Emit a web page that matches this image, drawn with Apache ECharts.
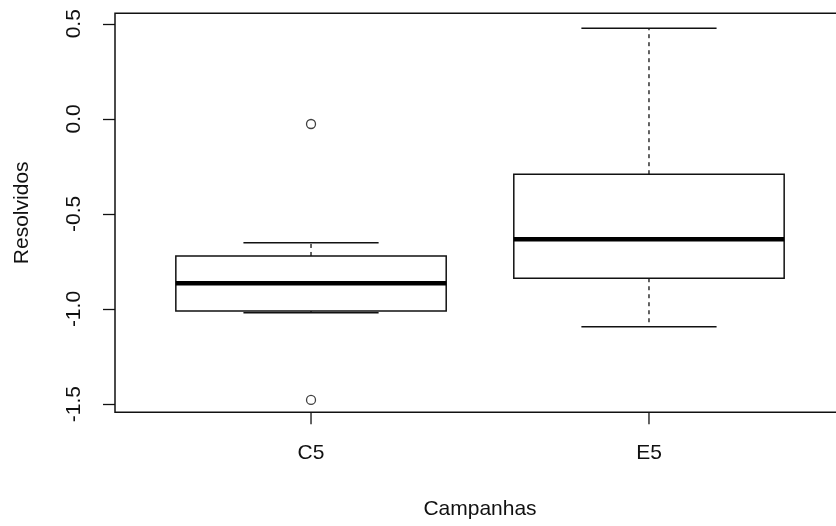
<!DOCTYPE html>
<html>
<head>
<meta charset="utf-8">
<script src="https://cdn.jsdelivr.net/npm/echarts@6/dist/echarts.min.js"></script>
<style>
  html, body { margin: 0; padding: 0; background: #fff; overflow: hidden; }
  /* plot frame extends slightly past the right edge of the window */
  #chart { width: 845px; height: 526px; }
</style>
</head>
<body>
<div id="chart"></div>
<script>
// Boxplot of "Resolvidos" by campaign
const categories = ['C5', 'E5'];
const lowerWhisker = [-1.02, -1.093];
const lowerQuartile = [-1.01, -0.838];
const medians = [-0.865, -0.633];
const upperQuartile = [-0.721, -0.291];
const upperWhisker = [-0.651, 0.476];
const outliers = [[-0.027, -1.478], []];
const yTicks = [-1.5, -1.0, -0.5, 0.0, 0.5];

const FONT = 'Liberation Sans, Arial, sans-serif';
const INK = '#111';
const FS = 21;
const Y_MIN = -1.543, Y_MAX = 0.555;

const boxData = categories.map((c, i) => [
  i + 1, lowerWhisker[i], lowerQuartile[i], medians[i], upperQuartile[i], upperWhisker[i]
]);
const outlierData = [];
outliers.forEach((vals, i) => vals.forEach(v => outlierData.push([i + 1, v])));

function renderBox(params, api) {
  const x = api.value(0);
  const lo = api.value(1), q1 = api.value(2), med = api.value(3), q3 = api.value(4), hi = api.value(5);
  const halfBox = 0.4, halfCap = 0.2;
  const p = (xx, yy) => api.coord([xx, yy]);
  const thin = { stroke: INK, lineWidth: 1.5, fill: null };
  const dashed = { stroke: INK, lineWidth: 1.3, lineDash: [4, 4], fill: null };
  const line = (a, b, style) => ({
    type: 'line',
    shape: { x1: a[0], y1: a[1], x2: b[0], y2: b[1] },
    style: style
  });
  const tl = p(x - halfBox, q3), br = p(x + halfBox, q1);
  // category tick below the frame
  const base = p(x, Y_MIN);
  return {
    type: 'group',
    children: [
      line(base, [base[0], base[1] + 12], { stroke: INK, lineWidth: 1.3 }),
      line(p(x, q3), p(x, hi), dashed),
      line(p(x, q1), p(x, lo), dashed),
      line(p(x - halfCap, hi), p(x + halfCap, hi), thin),
      line(p(x - halfCap, lo), p(x + halfCap, lo), thin),
      {
        type: 'rect',
        shape: { x: tl[0], y: tl[1], width: br[0] - tl[0], height: br[1] - tl[1] },
        style: { stroke: INK, lineWidth: 1.5, fill: '#fff' }
      },
      line(p(x - halfBox, med), p(x + halfBox, med), { stroke: '#000', lineWidth: 4.5 })
    ]
  };
}

const chart = echarts.init(document.getElementById('chart'), null, { renderer: 'canvas' });
chart.setOption({
  animation: false,
  backgroundColor: '#fff',
  grid: {
    left: 115, top: 13.3, right: 0, bottom: 113.7,
    show: true, borderColor: INK, borderWidth: 1.5, backgroundColor: 'transparent'
  },
  xAxis: {
    type: 'value',
    min: 0.42, max: 2.58,
    splitLine: { show: false },
    axisLine: { show: false, onZero: false },
    axisTick: { show: false },
    axisLabel: {
      customValues: [1, 2],
      formatter: v => categories[Math.round(v) - 1] || '',
      margin: 30, fontFamily: FONT, fontSize: FS, color: INK
    },
    name: 'Campanhas',
    nameLocation: 'middle',
    nameGap: 86,
    nameTextStyle: { fontFamily: FONT, fontSize: FS, color: INK }
  },
  yAxis: {
    type: 'value',
    min: Y_MIN, max: Y_MAX,
    splitLine: { show: false },
    axisLine: { show: false, onZero: false },
    axisTick: { show: true, length: 12, customValues: yTicks, lineStyle: { color: INK, width: 1.3 } },
    axisLabel: {
      customValues: yTicks,
      rotate: 90,
      formatter: v => v.toFixed(1),
      margin: 30, fontFamily: FONT, fontSize: FS, color: INK
    },
    name: 'Resolvidos',
    nameLocation: 'middle',
    nameRotate: 90,
    nameGap: 82,
    nameTextStyle: { fontFamily: FONT, fontSize: FS, color: INK }
  },
  series: [
    {
      type: 'custom',
      renderItem: renderBox,
      clip: false,
      data: boxData,
      encode: { x: 0, y: [1, 2, 3, 4, 5] },
      z: 2
    },
    {
      type: 'scatter',
      data: outlierData,
      symbol: 'circle',
      symbolSize: 9,
      itemStyle: { color: 'transparent', borderColor: INK, borderWidth: 1.3 },
      z: 3
    }
  ]
});
</script>
</body>
</html>
